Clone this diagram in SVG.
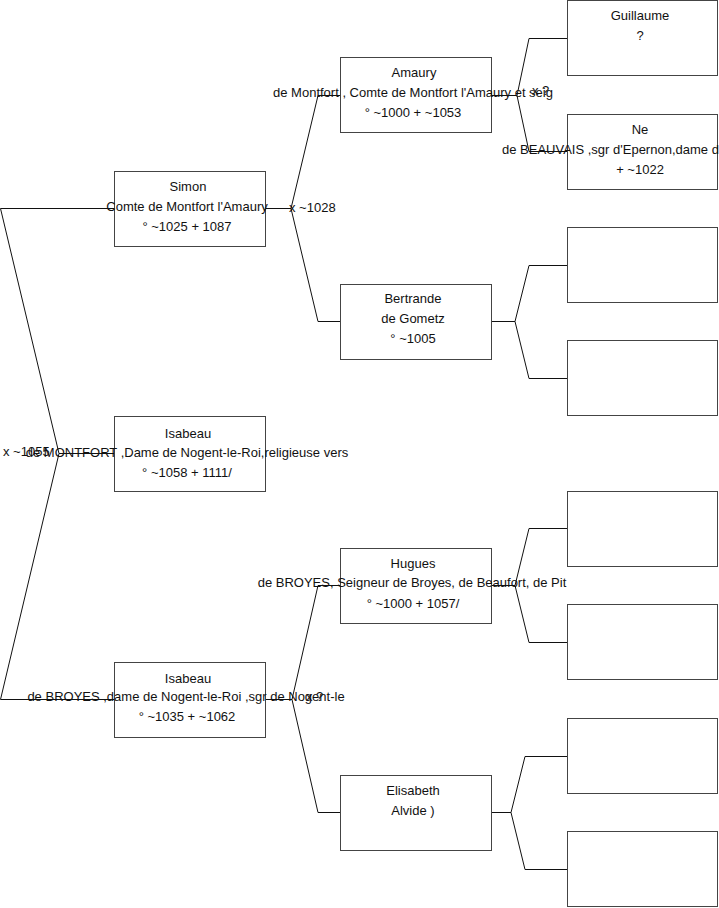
<svg xmlns="http://www.w3.org/2000/svg" width="719" height="908" viewBox="0 0 719 908">
<style>
.box{fill:#fff;stroke:#444;stroke-width:1}
.ln{fill:none;stroke:#111;stroke-width:1}
text{font-family:"Liberation Sans",Arial,sans-serif;font-size:13px;fill:#111}
.c{text-anchor:middle}
</style>
<rect x="0" y="0" width="719" height="908" fill="#fff"/>
<g id="connectors">
<path class="ln" d="M114 208.5 H0.5 L59 453.5 L0.5 699.5 H114"/>
<path class="ln" d="M59 453.5 H114"/>
<path class="ln" d="M265 208.5 H291 L318 95.5 H340"/>
<path class="ln" d="M291 208.5 L318 321.5 H340"/>
<path class="ln" d="M265 699.5 H292 L318 585.5 H340"/>
<path class="ln" d="M292 699.5 L318 812.5 H340"/>
<path class="ln" d="M491 95.5 H517 L529 38.5 H567"/>
<path class="ln" d="M517 95.5 L529 151.5 H567"/>
<path class="ln" d="M491 321.5 H515 L529 265.5 H567"/>
<path class="ln" d="M515 321.5 L529 378.5 H567"/>
<path class="ln" d="M491 585.5 H515 L529 528.5 H567"/>
<path class="ln" d="M515 585.5 L529 642.5 H567"/>
<path class="ln" d="M491 812.5 H511 L525 756.5 H567"/>
<path class="ln" d="M511 812.5 L525 869.5 H567"/>
<text x="289" y="212">x ~1028</text>
<text x="3" y="456">x ~1055</text>
<text x="532" y="95">x ?</text>
<text x="306" y="701">x ?</text>
</g>
<g id="simon">
<rect class="box" x="114.5" y="171.5" width="151" height="75"/>
<text class="c" x="188" y="191">Simon</text>
<text class="c" x="187" y="211">Comte de Montfort l'Amaury</text>
<text class="c" x="187" y="231">° ~1025 + 1087</text>
</g>
<g id="isabeau1">
<rect class="box" x="114.5" y="416.5" width="151" height="75"/>
<text class="c" x="188" y="438">Isabeau</text>
<text class="c" x="187" y="457">de MONTFORT ,Dame de Nogent-le-Roi,religieuse vers</text>
<text class="c" x="187" y="477">° ~1058 + 1111/</text>
</g>
<g id="isabeau2">
<rect class="box" x="114.5" y="662.5" width="151" height="75"/>
<text class="c" x="188" y="683">Isabeau</text>
<text class="c" x="186" y="701">de BROYES ,dame de Nogent-le-Roi ,sgr de Nogent-le</text>
<text class="c" x="187" y="721">° ~1035 + ~1062</text>
</g>
<g id="amaury">
<rect class="box" x="340.5" y="57.5" width="151" height="75"/>
<text class="c" x="414" y="77">Amaury</text>
<text class="c" x="413" y="97">de Montfort ,  Comte de Montfort l'Amaury et seig</text>
<text class="c" x="413" y="117">° ~1000 + ~1053</text>
</g>
<g id="bertrande">
<rect class="box" x="340.5" y="284.5" width="151" height="75"/>
<text class="c" x="413" y="303">Bertrande</text>
<text class="c" x="413" y="323">de Gometz</text>
<text class="c" x="413" y="343">° ~1005</text>
</g>
<g id="hugues">
<rect class="box" x="340.5" y="548.5" width="151" height="75"/>
<text class="c" x="413" y="568">Hugues</text>
<text class="c" x="412" y="587">de BROYES, Seigneur de Broyes, de Beaufort, de Pit</text>
<text class="c" x="413" y="608">° ~1000 + 1057/</text>
</g>
<g id="elisabeth">
<rect class="box" x="340.5" y="775.5" width="151" height="75"/>
<text class="c" x="413" y="795">Elisabeth</text>
<text class="c" x="413" y="815">Alvide )</text>
</g>
<g id="guillaume">
<rect class="box" x="567.5" y="0.5" width="150" height="75"/>
<text class="c" x="640" y="20">Guillaume</text>
<text class="c" x="640" y="40">?</text>
</g>
<g id="ne">
<rect class="box" x="567.5" y="114.5" width="150" height="75"/>
<text class="c" x="640" y="134">Ne</text>
<text x="502" y="154">de BEAUVAIS ,sgr d'Epernon,dame d</text>
<text class="c" x="640" y="174">+ ~1022</text>
</g>
<g id="empty1"><rect class="box" x="567.5" y="227.5" width="150" height="75"/></g>
<g id="empty2"><rect class="box" x="567.5" y="340.5" width="150" height="75"/></g>
<g id="empty3"><rect class="box" x="567.5" y="491.5" width="150" height="75"/></g>
<g id="empty4"><rect class="box" x="567.5" y="604.5" width="150" height="75"/></g>
<g id="empty5"><rect class="box" x="567.5" y="718.5" width="150" height="75"/></g>
<g id="empty6"><rect class="box" x="567.5" y="831.5" width="150" height="75"/></g>
</svg>
